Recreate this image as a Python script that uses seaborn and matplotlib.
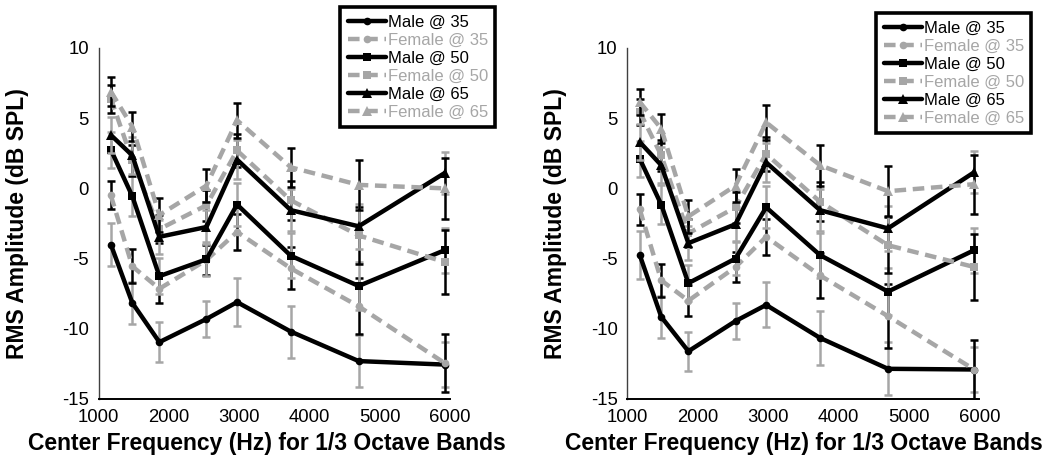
import numpy as np
import pandas as pd
import matplotlib
matplotlib.use("Agg")
import matplotlib.pyplot as plt
import seaborn as sns

# 1/3-octave band centre frequencies (Hz) as plotted
freqs = [1175, 1480, 1865, 2535, 2970, 3735, 4700, 5925]

series_names = ["Male @ 35", "Female @ 35", "Male @ 50",
                "Female @ 50", "Male @ 65", "Female @ 65"]

# Left panel: RMS amplitude (dB SPL)
left_m35 = [-4.0, -8.15, -10.95, -9.3, -8.1, -10.2, -12.3, -12.55]
left_f35 = [-0.5, -5.55, -7.15, -5.1, -3.1, -5.7, -8.4, -12.45]
left_m50 = [2.75, -0.55, -6.25, -5.05, -1.15, -4.8, -6.95, -4.4]
left_f50 = [6.4, 2.0, -2.9, -1.2, 2.7, -0.85, -3.35, -5.25]
left_m65 = [3.8, 2.35, -3.45, -2.75, 2.05, -1.55, -2.7, 1.1]
left_f65 = [6.9, 4.4, -1.9, 0.2, 4.85, 1.5, 0.25, 0.0]

left_m35_err = [1.5, 1.5, 1.4, 1.25, 1.7, 1.85, 1.85, 1.6]
left_f35_err = [1.0, 1.2, 1.0, 1.1, 1.3, 1.5, 2.0, 2.05]
left_m50_err = [1.3, 1.4, 1.3, 1.2, 1.5, 1.6, 1.7, 1.6]
left_f50_err = [1.0, 1.1, 1.0, 1.1, 1.2, 1.4, 2.0, 2.3]
left_m65_err = [1.3, 1.3, 1.2, 1.2, 1.4, 1.5, 1.6, 1.5]
left_f65_err = [1.0, 1.05, 1.2, 1.2, 1.25, 1.4, 1.8, 2.2]

# Right panel: RMS amplitude (dB SPL)
right_m35 = [-4.75, -9.15, -11.6, -9.45, -8.3, -10.65, -12.85, -12.9]
right_f35 = [-1.5, -6.55, -8.0, -5.6, -3.45, -6.2, -9.1, -12.9]
right_m50 = [2.1, -1.15, -6.75, -5.0, -1.35, -4.75, -7.35, -4.4]
right_f50 = [5.45, 2.35, -3.2, -1.35, 2.45, -0.95, -4.05, -5.6]
right_m65 = [3.3, 1.65, -3.9, -2.55, 1.85, -1.55, -2.85, 1.15]
right_f65 = [6.15, 4.25, -2.0, 0.2, 4.7, 1.65, -0.2, 0.3]

right_m35_err = [1.7, 1.5, 1.4, 1.3, 1.6, 1.95, 1.9, 1.6]
right_f35_err = [1.1, 1.2, 1.1, 1.1, 1.3, 1.6, 2.3, 2.1]
right_m50_err = [1.3, 1.4, 1.3, 1.2, 1.5, 1.6, 1.7, 1.6]
right_f50_err = [0.9, 1.1, 1.0, 1.1, 1.2, 1.4, 2.0, 2.35]
right_m65_err = [1.3, 1.3, 1.2, 1.2, 1.4, 1.5, 1.6, 1.5]
right_f65_err = [0.9, 1.05, 1.2, 1.2, 1.25, 1.45, 1.8, 2.1]

x_ticks = [1000, 2000, 3000, 4000, 5000, 6000]
y_ticks = [-15, -10, -5, 0, 5, 10]

BLACK = "#000000"
GRAY = "#A6A6A6"

sns.set_theme(style="white")
plt.rcParams["font.family"] = ["Liberation Sans", "DejaVu Sans"]
plt.rcParams["axes.unicode_minus"] = False

panels = [
    dict(vals=[left_m35, left_f35, left_m50, left_f50, left_m65, left_f65],
         errs=[left_m35_err, left_f35_err, left_m50_err, left_f50_err, left_m65_err, left_f65_err]),
    dict(vals=[right_m35, right_f35, right_m50, right_f50, right_m65, right_f65],
         errs=[right_m35_err, right_f35_err, right_m50_err, right_f50_err, right_m65_err, right_f65_err]),
]

markers = ["o", "o", "s", "s", "^", "^"]
msizes = [5.5, 5.5, 5.5, 5.5, 6.5, 6.5]

fig = plt.figure(figsize=(10.54, 4.66), dpi=100)
ax_rects = [[0.0935, 0.1438, 0.3335, 0.7532],
            [0.5953, 0.1438, 0.3340, 0.7532]]
legend_anchor = [(340 / 1054, 1 - 7 / 466), (876 / 1054, 1 - 13 / 466)]
ylabel_x = [-0.198, -0.172]
xlabel_x = [0.48, 0.50]

for p, panel in enumerate(panels):
    ax = fig.add_axes(ax_rects[p])
    handles = []
    for k, name in enumerate(series_names):
        male = k % 2 == 0
        line_color = BLACK if male else GRAY
        bar_color = GRAY if male else BLACK
        df = pd.DataFrame({"freq": freqs, "amp": panel["vals"][k]})
        ax.errorbar(df["freq"], df["amp"], yerr=panel["errs"][k], fmt="none",
                    ecolor=bar_color, elinewidth=1.8, capsize=2.6, capthick=1.8,
                    zorder=2 + 2 * k)
        ls = "-" if male else (0, (2.6, 1.5))
        sns.lineplot(data=df, x="freq", y="amp", ax=ax, color=line_color,
                     linewidth=3.2, linestyle=ls, marker=markers[k],
                     markersize=msizes[k], markeredgewidth=0,
                     markerfacecolor=line_color, errorbar=None,
                     label=name, zorder=3 + 2 * k, legend=False)
        ax.lines[-1].set_dash_capstyle("butt")
        handles.append(ax.lines[-1])

    ax.set_xlim(1000, 6000)
    ax.set_ylim(-15, 10)
    ax.set_xticks(x_ticks)
    ax.set_yticks(y_ticks)
    ax.tick_params(axis="both", length=0, pad=7, labelsize=13.3, colors=BLACK)
    for s in ["top", "right"]:
        ax.spines[s].set_visible(False)
    ax.spines["left"].set_color("#404040")
    ax.spines["left"].set_linewidth(1.0)
    ax.spines["bottom"].set_color(BLACK)
    ax.spines["bottom"].set_linewidth(1.4)
    ax.grid(False)

    ax.set_ylabel("RMS Amplitude (dB SPL)", fontsize=16.5, fontweight="bold", color=BLACK)
    ax.set_xlabel("Center Frequency (Hz) for 1/3 Octave Bands", fontsize=16.5,
                  fontweight="bold", color=BLACK)
    ax.yaxis.set_label_coords(ylabel_x[p], 0.5)
    ax.xaxis.set_label_coords(xlabel_x[p], -0.095)

    leg = ax.legend(handles=handles, labels=series_names, loc="upper left",
                    bbox_to_anchor=legend_anchor[p], bbox_transform=fig.transFigure,
                    borderaxespad=0, fontsize=12, frameon=True, fancybox=False,
                    handlelength=2.3, handletextpad=0.1, labelspacing=0.18,
                    borderpad=0.45, framealpha=1)
    leg.get_frame().set_edgecolor(BLACK)
    leg.get_frame().set_linewidth(2.6)
    for k, txt in enumerate(leg.get_texts()):
        txt.set_color(BLACK if k % 2 == 0 else GRAY)

fig.savefig("out.png", dpi=100)
